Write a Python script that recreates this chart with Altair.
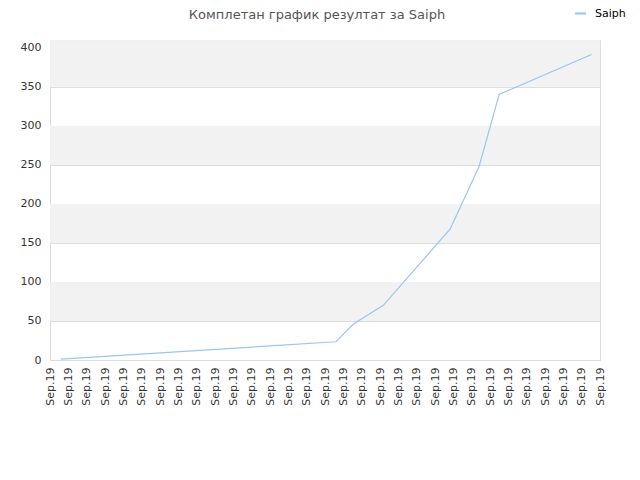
import altair as alt
import pandas as pd

# --- data ---
title_text = "Комплетан график резултат за Saiph"
series_name = "Saiph"
tick_positions = list(range(31))
tick_label = "Sep.19"
# x positions in label units (0 = first "Sep.19" tick, 30 = last)
line_x = [0.6, 15.6, 16.55, 18.18, 21.82, 23.4, 24.5, 29.54]
line_y = [1.0, 23.4, 46.1, 70.1, 167.6, 247.7, 340.3, 391.5]
band_lo = [50, 150, 250, 350, 400]
band_hi = [100, 200, 300, 400, 410]
y_ticks = [0, 50, 100, 150, 200, 250, 300, 350, 400]
x_domain = [0, 30]
y_domain = [0, 410]

line_df = pd.DataFrame({"x": line_x, "y": line_y, "series": series_name})
band_df = pd.DataFrame({"lo": band_lo, "hi": band_hi,
                        "x0": x_domain[0], "x1": x_domain[1]})

FONT = "DejaVu Sans"

xscale = alt.Scale(domain=x_domain, nice=False, zero=False)
yscale = alt.Scale(domain=y_domain, nice=False, zero=False)

xaxis = alt.Axis(values=tick_positions, labelExpr=f"'{tick_label}'",
                 labelAngle=270, labelAlign="right", labelBaseline="middle",
                 labelFont=FONT, labelFontSize=11, labelColor="#333333",
                 labelPadding=7, ticks=False, grid=False, domain=False,
                 title=None, labelOverlap=False, labelFlush=False)
yaxis = alt.Axis(values=y_ticks, labelFont=FONT, labelFontSize=11,
                 labelColor="#333333", labelPadding=9, ticks=False,
                 grid=True, gridColor="#dddddd", gridWidth=1,
                 domain=False, title=None)

bands = alt.Chart(band_df).mark_rect(color="#f2f2f2").encode(
    x=alt.X("x0:Q", scale=xscale, axis=xaxis),
    x2="x1:Q",
    y=alt.Y("lo:Q", scale=yscale, axis=yaxis),
    y2="hi:Q",
)

line = alt.Chart(line_df).mark_line(strokeWidth=1.2, interpolate="linear").encode(
    x=alt.X("x:Q", scale=xscale, axis=xaxis),
    y=alt.Y("y:Q", scale=yscale, axis=yaxis),
    color=alt.Color("series:N",
                    scale=alt.Scale(range=["#96c6f5"]),
                    legend=alt.Legend(title=None, orient="none", legendX=524, legendY=-33,
                                      symbolType="stroke", symbolStrokeWidth=2,
                                      symbolSize=120, labelOffset=8, labelFont=FONT,
                                      labelFontSize=11, labelColor="#000000")),
)

chart = alt.layer(bands, line).properties(
    width=550,
    height=320,
    title=alt.TitleParams(title_text, font=FONT, fontSize=13, fontWeight="normal",
                          color="#555555", anchor="middle", dx=-8, offset=-15),
    autosize=alt.AutoSizeParams(type="none"),
    padding={"left": 42, "top": 32, "right": 30, "bottom": 100},
).configure_view(stroke="#dcdcdc", strokeWidth=1)

chart.save("out.html", embed_options={"renderer": "svg", "actions": False})
